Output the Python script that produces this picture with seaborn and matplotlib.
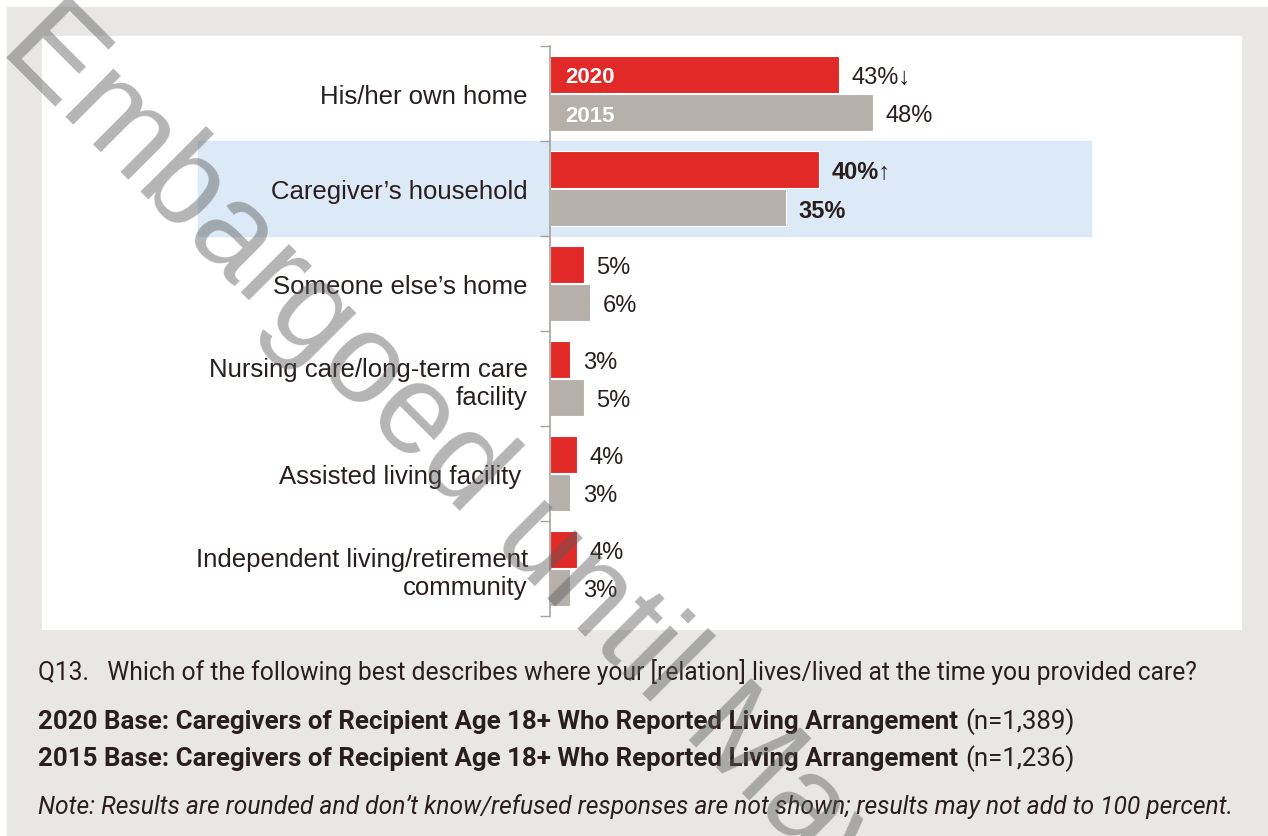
import matplotlib
matplotlib.use('Agg')
import matplotlib.pyplot as plt
import matplotlib.patches as mpatches
import pandas as pd
import seaborn as sns

categories = ['His/her own home', 'Caregiver\u2019s household', 'Someone else\u2019s home',
              'Nursing care/long-term care\nfacility', 'Assisted living facility ',
              'Independent living/retirement\ncommunity']
years = ['2020', '2015']
values_2020 = [43, 40, 5, 3, 4, 4]
values_2015 = [48, 35, 6, 5, 3, 3]
labels_2020 = ['43%\u2193', '40%\u2191', '5%', '3%', '4%', '4%']
labels_2015 = ['48%', '35%', '6%', '5%', '3%', '3%']
sample_sizes = ['1,389', '1,236']
highlight = 1  # Caregiver's household

df = pd.DataFrame({
    'category': categories * 2,
    'year': [years[0]] * len(categories) + [years[1]] * len(categories),
    'value': values_2020 + values_2015,
})

RED = '#e12a27'
GREY = '#b6b0aa'
TXT = '#2a1d1e'
AXIS = '#a8a29c'

sns.set_style('white')
plt.rcParams['font.family'] = ['Liberation Sans', 'DejaVu Sans']
foot_font = 'Roboto'

W, H = 1268, 837
fig = plt.figure(figsize=(W / 100, H / 100), dpi=100)
fig.patch.set_facecolor('white')
fig.patches.append(mpatches.Rectangle((7 / W, 0), 1, 1 - 8 / H, transform=fig.transFigure,
                                      color='#e8e7e5', zorder=-10))
fig.patches.append(mpatches.Rectangle((42 / W, 1 - 630 / H), (1241 - 42) / W, (630 - 37) / H,
                                      transform=fig.transFigure, color='white', zorder=-9))

ax = fig.add_axes([550 / W, 1 - 617 / H, (1241 - 550) / W, (617 - 47) / H])
ax.patch.set_alpha(0)

sns.barplot(data=df, x='value', y='category', hue='year', palette=[RED, GREY],
            saturation=1, width=0.82, gap=0.05, edgecolor='white', linewidth=0.8,
            legend=False, ax=ax)
ax.set_xlim(0, (1241 - 550) / 6.73)

# highlight band behind the caregiver's household row
ax.add_patch(mpatches.Rectangle((-0.51, highlight - 0.5), 0.783 + 0.51, 1,
                                transform=ax.get_yaxis_transform(), color='#dbeaf6',
                                zorder=0.5, clip_on=False))

for c, labs in zip(ax.containers, [labels_2020, labels_2015]):
    texts = ax.bar_label(c, labels=labs, padding=9, fontsize=17, color=TXT)
    for t in texts:
        t.set_va('center_baseline')
    texts[highlight].set_fontweight('bold')

for c, yr in zip(ax.containers, years):
    bar = c[0]
    ax.annotate(yr, xy=(0, bar.get_y() + bar.get_height() / 2), xytext=(11, 0),
                textcoords='offset points', va='center_baseline', ha='left',
                color='white', fontsize=16, fontweight='bold')

ax.set_xticks([])
ax.set_xlabel('')
ax.set_ylabel('')
ax.set_yticks(range(len(categories)))
ax.set_yticklabels(categories, fontsize=18.5, color=TXT)
ax.set_yticks([i - 0.5 for i in range(len(categories) + 1)], minor=True)
ax.tick_params(axis='y', which='major', left=False, length=0, pad=16)
ax.tick_params(axis='y', which='minor', left=True, length=7, width=1, color=AXIS,
               direction='out')
for s in ['top', 'right', 'bottom']:
    ax.spines[s].set_visible(False)
ax.spines['left'].set_color(AXIS)
ax.spines['left'].set_linewidth(1.2)

# footnotes
fs = 17.7
fig.text(38 / W, 1 - 680 / H,
         'Q13.   Which of the following best describes where your [relation] lives/lived at the time you provided care?',
         family=foot_font, fontsize=fs, color=TXT)
fig.canvas.draw()
r = fig.canvas.get_renderer()
for yb, yr, n in zip([729, 766], years, sample_sizes):
    t = fig.text(38 / W, 1 - yb / H,
                 f'{yr} Base: Caregivers of Recipient Age 18+ Who Reported Living Arrangement',
                 family=foot_font, fontsize=18.6, fontweight='bold', color=TXT)
    bb = t.get_window_extent(r)
    fig.text((bb.x1 + 7) / W, 1 - yb / H, f'(n={n})',
             family=foot_font, fontsize=18.6, color=TXT)
fig.text(38 / W, 1 - 814 / H,
         'Note: Results are rounded and don\u2019t know/refused responses are not shown; results may not add to 100 percent.',
         family=foot_font, fontsize=fs, style='italic', color=TXT)

# watermark
fig.text(-2 / W, 1 - 50 / H, 'Embargoed until May', fontsize=92, color='#5a5a5a', alpha=0.45,
         rotation=-45, rotation_mode='anchor', ha='left', va='baseline', zorder=20)

fig.savefig('out.png', dpi=100)
